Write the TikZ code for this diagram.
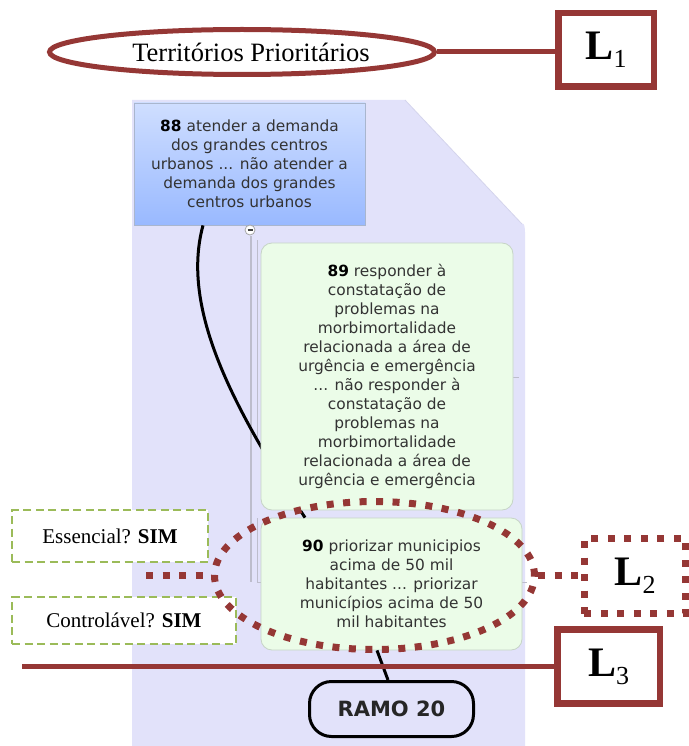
\documentclass[tikz,border=0pt]{standalone}
\usepackage{fontspec}
\setmainfont{Liberation Serif}
\newfontfamily\mapfont{DejaVu Sans}
\usetikzlibrary{shapes.geometric}

\definecolor{brick}{HTML}{953735}
\definecolor{olive}{HTML}{9BBB59}
\definecolor{lav}{HTML}{E2E2FA}
\definecolor{lavedge}{HTML}{D4D4EC}
\definecolor{mint}{HTML}{EBFCE8}
\definecolor{mintedge}{HTML}{C6D4C6}
\definecolor{skytop}{HTML}{CFDEFF}
\definecolor{skybot}{HTML}{99B9FF}
\definecolor{skyedge}{HTML}{A9B6CE}
\definecolor{maptext}{HTML}{333333}
\definecolor{guide}{HTML}{BDBDCC}

\newcommand{\nodenum}[1]{\textcolor{black}{\textbf{#1}}}
\newcommand{\levelmark}[2]{{\fontsize{42}{42}\selectfont\bfseries #1}\raisebox{-8pt}{\fontsize{26}{26}\selectfont #2}}

\tikzset{
  maptxt/.style={font=\mapfont\fontsize{15.4}{19}\selectfont, text=maptext, align=center, inner sep=0pt},
  bluebox/.style={maptxt, draw=skyedge, line width=0.8pt, top color=skytop, bottom color=skybot},
  greenbox/.style={maptxt, draw=mintedge, line width=0.8pt, fill=mint, rounded corners=11pt},
  conn/.style={line width=3pt, black},
  brickline/.style={draw=brick, line width=5pt},
  brickbox/.style={draw=brick, line width=6.5pt, fill=white, inner sep=0pt},
  brickdots/.style={draw=brick, line width=7pt, dash pattern=on 7pt off 9.5pt},
  qbox/.style={draw=olive, line width=2.5pt, dash pattern=on 8pt off 4.5pt, fill=white,
    font=\fontsize{21}{25}\selectfont, inner sep=0pt}
}

\begin{document}
\begin{tikzpicture}[x=1pt, y=-1pt]
\useasboundingbox (0,0) rectangle (688,746);

% map canvas with clipped top-right corner
\fill[lav] (132,100) -- (405,100) -- (522,224) to[out=47,in=90] (525,232) -- (525,746) -- (132,746) -- cycle;
\draw[lavedge, line width=0.8pt] (405,100) -- (522,224);

% thin guide lines of the map
\draw[guide, line width=0.6pt] (257,240) -- (257,437);
\draw[guide, line width=0.6pt] (257,518) -- (257,582) -- (527,582);
\draw[guide, line width=0.6pt] (513,377) -- (519,377);

% branch connectors
\coordinate (g0) at (251,236);
\coordinate (g1) at (251,582);
\draw[guide, line width=1.3pt] (g0) -- (g1);

\node[bluebox, minimum width=231pt, minimum height=122pt] (n88) at (249.5,164)
  {\nodenum{88} atender a demanda\\dos grandes centros\\urbanos ... não atender a\\demanda dos grandes\\centros urbanos};

\node[greenbox, minimum width=261pt, minimum height=132pt] (n90) at (391.5,584)
  {\nodenum{90} priorizar municipios\\acima de 50 mil\\habitantes ... priorizar\\municípios acima de 50\\mil habitantes};

\draw[conn] ([xshift=-46.5pt]n88.south) .. controls (180,310) and (235,410) .. ([xshift=-86.5pt]n90.north);

\node[greenbox, minimum width=252pt, minimum height=267pt] (n89) at (387,376.5)
  {\nodenum{89} responder à\\constatação de\\problemas na\\morbimortalidade\\relacionada a área de\\urgência e emergência\\... não responder à\\constatação de\\problemas na\\morbimortalidade\\relacionada a área de\\urgência e emergência};

\node[circle, draw=gray!70, fill=white, line width=0.8pt, minimum size=10pt, inner sep=0pt] (fold) at (250,230) {};
\draw[black!75, line width=1.2pt] ([xshift=-2.5pt]fold.center) -- ([xshift=2.5pt]fold.center);

\node[draw=black, line width=3pt, rounded corners=22pt, fill=lav, minimum width=164pt, minimum height=55pt,
  font=\mapfont\bfseries\fontsize{21}{25}\selectfont, text=black!85, inner sep=0pt] (ramo) at (391.5,709) {RAMO 20};
\draw[conn] ([xshift=-14.5pt]n90.south) -- ([xshift=-3.5pt]ramo.north);

% level 1
\node[ellipse, brickline, minimum width=385pt, minimum height=45pt, inner sep=0pt,
  font=\fontsize{26.5}{30}\selectfont] (terr) at (242,52) {\hspace*{18pt}Territórios Prioritários};
\node[brickbox, minimum width=95.5pt, minimum height=73.5pt] (L1) at (606,50) {\levelmark{L}{1}};
\draw[brickline] (terr.east) -- (terr.east -| L1.west);

% level 3
\node[brickbox, minimum width=102.5pt, minimum height=74pt] (L3) at (608.5,666.5) {\levelmark{L}{3}};
\coordinate (l3start) at (22,666.5);
\draw[brickline] (l3start) -- (l3start -| L3.west);

% questions
\node[qbox, minimum width=196pt, minimum height=52pt] (ess) at (110,536) {Essencial? \textbf{SIM}};
\node[qbox, minimum width=224pt, minimum height=47pt] (ctl) at (124,620.5) {Controlável? \textbf{SIM}};

% level 2
\node[ellipse, brickdots, minimum width=320pt, minimum height=148pt, inner sep=0pt] (focus) at (374.5,575.5) {};
\node[brickdots, fill=white, minimum width=101.5pt, minimum height=75pt, inner sep=0pt] (L2) at (635,576) {\levelmark{L}{2}};
\coordinate (dl) at (146,575.5);
\draw[brickdots] (dl) -- (focus.west);
\draw[brickdots] (focus.east) -- (focus.east -| L2.west);
\end{tikzpicture}
\end{document}
